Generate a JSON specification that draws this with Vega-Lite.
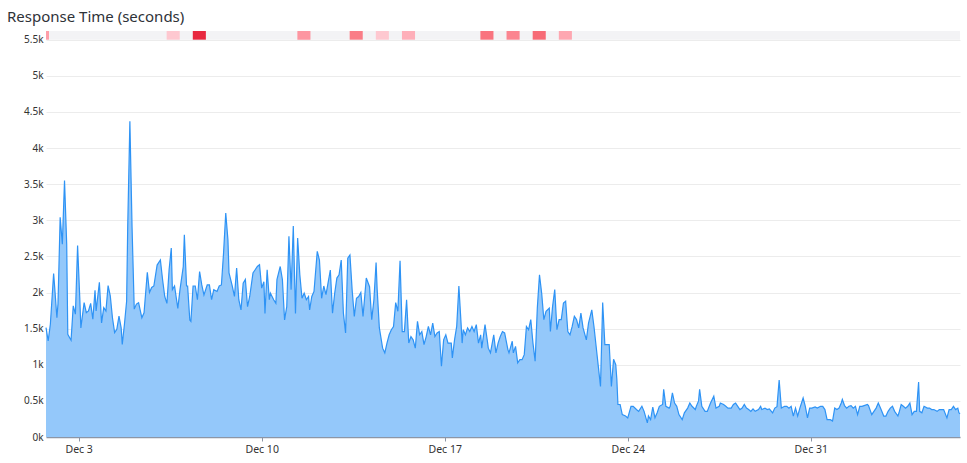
{
  "$schema": "https://vega.github.io/schema/vega-lite/v6.json",
  "width": 914,
  "height": 406,
  "autosize": "none",
  "padding": {"left": 46, "top": 31, "right": 7, "bottom": 26},
  "background": "#ffffff",
  "title": {
    "text": "Response Time (seconds)",
    "anchor": "start",
    "frame": "group",
    "dx": -39,
    "offset": 6,
    "font": "Noto Sans",
    "fontSize": 15,
    "fontWeight": "normal",
    "color": "#2e3238"
  },
  "config": {
    "view": {"stroke": null},
    "axis": {"labelFont": "Noto Sans", "labelColor": "#333333", "titleFont": "Noto Sans"},
    "axisY": {
      "tickCount": 12,
      "labelExpr": "datum.value / 1000 + 'k'",
      "grid": true,
      "domain": false,
      "ticks": false,
      "labelPadding": 3,
      "labelFontSize": 10,
      "gridColor": "#ececec",
      "gridWidth": 1
    },
    "axisX": {
      "grid": false,
      "domainColor": "#8c96a6",
      "domainWidth": 1.3,
      "tickColor": "#8c96a6",
      "tickSize": 4,
      "labelFontSize": 10.5,
      "labelPadding": 3
    }
  },
  "datasets": {
    "band": [{"s": "2023-12-01T18:00", "e": "2024-01-05T17:00"}],
    "cells": [
      {"s": "2023-12-01T08:45", "e": "2023-12-01T20:45", "n": 4},
      {"s": "2023-12-06T08:45", "e": "2023-12-06T20:45", "n": 1.5},
      {"s": "2023-12-07T08:45", "e": "2023-12-07T20:45", "n": 10},
      {"s": "2023-12-11T08:45", "e": "2023-12-11T20:45", "n": 4.5},
      {"s": "2023-12-13T08:45", "e": "2023-12-13T20:45", "n": 6},
      {"s": "2023-12-14T08:45", "e": "2023-12-14T20:45", "n": 1.5},
      {"s": "2023-12-15T08:45", "e": "2023-12-15T20:45", "n": 3},
      {"s": "2023-12-18T08:45", "e": "2023-12-18T20:45", "n": 6.5},
      {"s": "2023-12-19T08:45", "e": "2023-12-19T20:45", "n": 5.5},
      {"s": "2023-12-20T08:45", "e": "2023-12-20T20:45", "n": 7},
      {"s": "2023-12-21T08:45", "e": "2023-12-21T20:45", "n": 3.5}
    ],
    "series": [
      {"t":"2023-12-01T18:00","v":1514},{"t":"2023-12-01T20:00","v":1330},{"t":"2023-12-01T22:00","v":1560},
      {"t":"2023-12-02T01:00","v":2264},{"t":"2023-12-02T02:00","v":2070},{"t":"2023-12-02T04:00","v":1650},
      {"t":"2023-12-02T05:00","v":1840},{"t":"2023-12-02T07:00","v":3040},{"t":"2023-12-02T09:00","v":2670},
      {"t":"2023-12-02T11:00","v":3550},{"t":"2023-12-02T13:00","v":2670},{"t":"2023-12-02T14:00","v":1420},
      {"t":"2023-12-02T17:00","v":1340},{"t":"2023-12-02T19:00","v":1815},{"t":"2023-12-02T21:00","v":1700},
      {"t":"2023-12-02T23:00","v":2650},{"t":"2023-12-03T01:00","v":1930},{"t":"2023-12-03T02:00","v":1510},
      {"t":"2023-12-03T05:00","v":1860},{"t":"2023-12-03T07:00","v":1720},{"t":"2023-12-03T09:00","v":1745},
      {"t":"2023-12-03T11:00","v":1850},{"t":"2023-12-03T13:00","v":1630},{"t":"2023-12-03T15:00","v":2030},
      {"t":"2023-12-03T16:00","v":1745},{"t":"2023-12-03T19:00","v":2140},{"t":"2023-12-03T21:00","v":1580},
      {"t":"2023-12-03T23:00","v":1790},{"t":"2023-12-04T01:00","v":1745},{"t":"2023-12-04T03:00","v":2095},
      {"t":"2023-12-04T05:00","v":1955},{"t":"2023-12-04T07:00","v":1650},{"t":"2023-12-04T09:00","v":1445},
      {"t":"2023-12-04T11:00","v":1490},{"t":"2023-12-04T13:00","v":1675},{"t":"2023-12-04T15:00","v":1510},
      {"t":"2023-12-04T16:00","v":1280},{"t":"2023-12-04T18:00","v":1560},{"t":"2023-12-04T20:00","v":1880},
      {"t":"2023-12-04T21:00","v":2900},{"t":"2023-12-04T23:00","v":4370},{"t":"2023-12-05T01:00","v":2900},
      {"t":"2023-12-05T03:00","v":1770},{"t":"2023-12-05T05:00","v":1840},{"t":"2023-12-05T07:00","v":1860},
      {"t":"2023-12-05T10:00","v":1650},{"t":"2023-12-05T12:00","v":1720},{"t":"2023-12-05T15:00","v":2280},
      {"t":"2023-12-05T17:00","v":2000},{"t":"2023-12-05T19:00","v":2070},{"t":"2023-12-05T21:00","v":2090},
      {"t":"2023-12-06T00:00","v":2380},{"t":"2023-12-06T03:00","v":2450},{"t":"2023-12-06T05:00","v":2180},
      {"t":"2023-12-06T07:00","v":1945},{"t":"2023-12-06T09:00","v":1850},{"t":"2023-12-06T11:00","v":2315},
      {"t":"2023-12-06T13:00","v":2615},{"t":"2023-12-06T14:00","v":2040},{"t":"2023-12-06T16:00","v":2090},
      {"t":"2023-12-06T19:00","v":1780},{"t":"2023-12-06T21:00","v":2040},{"t":"2023-12-07T00:00","v":2360},
      {"t":"2023-12-07T01:00","v":2800},{"t":"2023-12-07T03:00","v":2090},{"t":"2023-12-07T04:00","v":2090},
      {"t":"2023-12-07T06:00","v":1620},{"t":"2023-12-07T07:00","v":1600},{"t":"2023-12-07T09:00","v":2090},
      {"t":"2023-12-07T11:00","v":2090},{"t":"2023-12-07T13:00","v":1900},{"t":"2023-12-07T15:00","v":2290},
      {"t":"2023-12-07T17:00","v":2105},{"t":"2023-12-07T19:00","v":1965},{"t":"2023-12-07T22:00","v":2105},
      {"t":"2023-12-08T00:00","v":2105},{"t":"2023-12-08T02:00","v":1900},{"t":"2023-12-08T04:00","v":2040},
      {"t":"2023-12-08T07:00","v":2015},{"t":"2023-12-08T09:00","v":2090},{"t":"2023-12-08T11:00","v":2105},
      {"t":"2023-12-08T13:00","v":2550},{"t":"2023-12-08T15:00","v":3100},{"t":"2023-12-08T17:00","v":2730},
      {"t":"2023-12-08T18:00","v":2270},{"t":"2023-12-08T21:00","v":2090},{"t":"2023-12-08T23:00","v":1945},
      {"t":"2023-12-09T01:00","v":2340},{"t":"2023-12-09T03:00","v":1900},{"t":"2023-12-09T05:00","v":1760},
      {"t":"2023-12-09T07:00","v":2130},{"t":"2023-12-09T09:00","v":2180},{"t":"2023-12-09T11:00","v":1805},
      {"t":"2023-12-09T13:00","v":1945},{"t":"2023-12-09T16:00","v":2270},{"t":"2023-12-09T18:00","v":2315},
      {"t":"2023-12-09T20:00","v":2360},{"t":"2023-12-09T22:00","v":2385},{"t":"2023-12-10T00:00","v":2060},
      {"t":"2023-12-10T02:00","v":2150},{"t":"2023-12-10T03:00","v":1710},{"t":"2023-12-10T05:00","v":2315},
      {"t":"2023-12-10T07:00","v":1900},{"t":"2023-12-10T08:00","v":1990},{"t":"2023-12-10T11:00","v":1900},
      {"t":"2023-12-10T13:00","v":1850},{"t":"2023-12-10T14:00","v":2180},{"t":"2023-12-10T17:00","v":2360},
      {"t":"2023-12-10T19:00","v":2180},{"t":"2023-12-10T21:00","v":1620},{"t":"2023-12-10T23:00","v":1805},
      {"t":"2023-12-11T01:00","v":2780},{"t":"2023-12-11T03:00","v":2040},{"t":"2023-12-11T05:00","v":2920},
      {"t":"2023-12-11T07:00","v":1710},{"t":"2023-12-11T09:00","v":2755},{"t":"2023-12-11T11:00","v":2245},
      {"t":"2023-12-11T13:00","v":1920},{"t":"2023-12-11T15:00","v":1990},{"t":"2023-12-11T17:00","v":1900},
      {"t":"2023-12-11T19:00","v":1945},{"t":"2023-12-11T20:00","v":1760},{"t":"2023-12-11T22:00","v":1945},
      {"t":"2023-12-12T00:00","v":2015},{"t":"2023-12-12T03:00","v":2570},{"t":"2023-12-12T05:00","v":2450},
      {"t":"2023-12-12T07:00","v":1920},{"t":"2023-12-12T09:00","v":2090},{"t":"2023-12-12T11:00","v":1970},
      {"t":"2023-12-12T15:00","v":2310},{"t":"2023-12-12T17:00","v":1715},{"t":"2023-12-12T19:00","v":1990},
      {"t":"2023-12-12T21:00","v":2200},{"t":"2023-12-12T23:00","v":2245},{"t":"2023-12-13T01:00","v":2450},
      {"t":"2023-12-13T03:00","v":1715},{"t":"2023-12-13T05:00","v":1440},{"t":"2023-12-13T07:00","v":2475},
      {"t":"2023-12-13T09:00","v":2520},{"t":"2023-12-13T11:00","v":2040},{"t":"2023-12-13T13:00","v":1670},
      {"t":"2023-12-13T15:00","v":1920},{"t":"2023-12-13T17:00","v":1945},{"t":"2023-12-13T19:00","v":2000},
      {"t":"2023-12-13T21:00","v":1670},{"t":"2023-12-14T00:00","v":2200},{"t":"2023-12-14T03:00","v":2080},
      {"t":"2023-12-14T05:00","v":1625},{"t":"2023-12-14T07:00","v":1900},{"t":"2023-12-14T09:00","v":2415},
      {"t":"2023-12-14T10:00","v":2040},{"t":"2023-12-14T12:00","v":1510},{"t":"2023-12-14T15:00","v":1230},
      {"t":"2023-12-14T17:00","v":1165},{"t":"2023-12-14T19:00","v":1300},{"t":"2023-12-14T21:00","v":1415},
      {"t":"2023-12-14T23:00","v":1485},{"t":"2023-12-15T01:00","v":1530},{"t":"2023-12-15T03:00","v":1860},
      {"t":"2023-12-15T05:00","v":1740},{"t":"2023-12-15T07:00","v":2440},{"t":"2023-12-15T09:00","v":1460},
      {"t":"2023-12-15T11:00","v":1460},{"t":"2023-12-15T13:00","v":1900},{"t":"2023-12-15T15:00","v":1300},
      {"t":"2023-12-15T17:00","v":1390},{"t":"2023-12-15T19:00","v":1345},{"t":"2023-12-15T21:00","v":1230},
      {"t":"2023-12-15T23:00","v":1600},{"t":"2023-12-16T01:00","v":1415},{"t":"2023-12-16T03:00","v":1460},
      {"t":"2023-12-16T05:00","v":1280},{"t":"2023-12-16T07:00","v":1390},{"t":"2023-12-16T09:00","v":1530},
      {"t":"2023-12-16T11:00","v":1415},{"t":"2023-12-16T13:00","v":1575},{"t":"2023-12-16T15:00","v":1390},
      {"t":"2023-12-16T17:00","v":1440},{"t":"2023-12-16T19:00","v":1460},{"t":"2023-12-16T21:00","v":980},
      {"t":"2023-12-16T23:00","v":1345},{"t":"2023-12-17T01:00","v":1415},{"t":"2023-12-17T03:00","v":1300},
      {"t":"2023-12-17T06:00","v":1300},{"t":"2023-12-17T07:00","v":1095},{"t":"2023-12-17T09:00","v":1345},
      {"t":"2023-12-17T11:00","v":1530},{"t":"2023-12-17T13:00","v":2090},{"t":"2023-12-17T15:00","v":1575},
      {"t":"2023-12-17T16:00","v":1300},{"t":"2023-12-17T17:00","v":1485},{"t":"2023-12-17T19:00","v":1415},
      {"t":"2023-12-17T21:00","v":1510},{"t":"2023-12-17T23:00","v":1460},{"t":"2023-12-18T01:00","v":1530},
      {"t":"2023-12-18T03:00","v":1460},{"t":"2023-12-18T05:00","v":1555},{"t":"2023-12-18T07:00","v":1300},
      {"t":"2023-12-18T09:00","v":1415},{"t":"2023-12-18T10:00","v":1230},{"t":"2023-12-18T13:00","v":1555},
      {"t":"2023-12-18T15:00","v":1345},{"t":"2023-12-18T16:00","v":1230},{"t":"2023-12-18T18:00","v":1165},
      {"t":"2023-12-18T21:00","v":1415},{"t":"2023-12-18T23:00","v":1165},{"t":"2023-12-19T01:00","v":1300},
      {"t":"2023-12-19T03:00","v":1390},{"t":"2023-12-19T05:00","v":1460},{"t":"2023-12-19T07:00","v":1440},
      {"t":"2023-12-19T10:00","v":1210},{"t":"2023-12-19T11:00","v":1165},{"t":"2023-12-19T14:00","v":1325},
      {"t":"2023-12-19T15:00","v":1165},{"t":"2023-12-19T17:00","v":1255},{"t":"2023-12-19T19:00","v":1025},
      {"t":"2023-12-19T21:00","v":1070},{"t":"2023-12-19T23:00","v":1070},{"t":"2023-12-20T01:00","v":1140},
      {"t":"2023-12-20T03:00","v":1530},{"t":"2023-12-20T05:00","v":1485},{"t":"2023-12-20T07:00","v":1625},
      {"t":"2023-12-20T09:00","v":1300},{"t":"2023-12-20T11:00","v":1050},{"t":"2023-12-20T13:00","v":1785},
      {"t":"2023-12-20T15:00","v":2245},{"t":"2023-12-20T17:00","v":1990},{"t":"2023-12-20T19:00","v":1625},
      {"t":"2023-12-20T21:00","v":1740},{"t":"2023-12-21T00:00","v":1785},{"t":"2023-12-21T01:00","v":1460},
      {"t":"2023-12-21T03:00","v":1805},{"t":"2023-12-21T05:00","v":2040},{"t":"2023-12-21T07:00","v":1485},
      {"t":"2023-12-21T09:00","v":1625},{"t":"2023-12-21T11:00","v":1625},{"t":"2023-12-21T13:00","v":1855},
      {"t":"2023-12-21T15:00","v":1880},{"t":"2023-12-21T17:00","v":1460},{"t":"2023-12-21T19:00","v":1415},
      {"t":"2023-12-21T21:00","v":1530},{"t":"2023-12-21T23:00","v":1670},{"t":"2023-12-22T01:00","v":1625},
      {"t":"2023-12-22T03:00","v":1510},{"t":"2023-12-22T05:00","v":1715},{"t":"2023-12-22T07:00","v":1510},
      {"t":"2023-12-22T10:00","v":1345},{"t":"2023-12-22T12:00","v":1575},{"t":"2023-12-22T15:00","v":1760},
      {"t":"2023-12-22T17:00","v":1530},{"t":"2023-12-22T20:00","v":1115},{"t":"2023-12-22T23:00","v":700},
      {"t":"2023-12-23T01:00","v":1860},{"t":"2023-12-23T03:00","v":1280},{"t":"2023-12-23T05:00","v":1280},
      {"t":"2023-12-23T07:00","v":1280},{"t":"2023-12-23T09:00","v":700},{"t":"2023-12-23T11:00","v":1075},
      {"t":"2023-12-23T13:00","v":1000},{"t":"2023-12-23T14:00","v":800},{"t":"2023-12-23T15:00","v":450},
      {"t":"2023-12-23T17:00","v":450},{"t":"2023-12-23T19:00","v":310},{"t":"2023-12-23T22:00","v":290},
      {"t":"2023-12-24T00:00","v":265},{"t":"2023-12-24T03:00","v":425},{"t":"2023-12-24T05:00","v":425},
      {"t":"2023-12-24T08:00","v":380},{"t":"2023-12-24T10:00","v":355},{"t":"2023-12-24T13:00","v":425},
      {"t":"2023-12-24T15:00","v":355},{"t":"2023-12-24T18:00","v":195},{"t":"2023-12-24T19:00","v":290},
      {"t":"2023-12-24T21:00","v":240},{"t":"2023-12-24T23:00","v":415},{"t":"2023-12-25T01:00","v":265},
      {"t":"2023-12-25T03:00","v":335},{"t":"2023-12-25T05:00","v":425},{"t":"2023-12-25T08:00","v":450},
      {"t":"2023-12-25T09:00","v":660},{"t":"2023-12-25T11:00","v":425},{"t":"2023-12-25T14:00","v":400},
      {"t":"2023-12-25T15:00","v":425},{"t":"2023-12-25T17:00","v":610},{"t":"2023-12-25T19:00","v":470},
      {"t":"2023-12-25T21:00","v":425},{"t":"2023-12-25T23:00","v":310},{"t":"2023-12-26T02:00","v":240},
      {"t":"2023-12-26T04:00","v":335},{"t":"2023-12-26T07:00","v":400},{"t":"2023-12-26T09:00","v":470},
      {"t":"2023-12-26T11:00","v":425},{"t":"2023-12-26T14:00","v":380},{"t":"2023-12-26T15:00","v":425},
      {"t":"2023-12-26T17:00","v":500},{"t":"2023-12-26T18:00","v":660},{"t":"2023-12-26T20:00","v":425},
      {"t":"2023-12-26T23:00","v":355},{"t":"2023-12-27T01:00","v":355},{"t":"2023-12-27T04:00","v":470},
      {"t":"2023-12-27T07:00","v":565},{"t":"2023-12-27T09:00","v":400},{"t":"2023-12-27T12:00","v":425},
      {"t":"2023-12-27T13:00","v":470},{"t":"2023-12-27T16:00","v":450},{"t":"2023-12-27T18:00","v":425},
      {"t":"2023-12-27T20:00","v":400},{"t":"2023-12-27T23:00","v":400},{"t":"2023-12-28T01:00","v":450},
      {"t":"2023-12-28T03:00","v":470},{"t":"2023-12-28T05:00","v":425},{"t":"2023-12-28T07:00","v":380},
      {"t":"2023-12-28T09:00","v":400},{"t":"2023-12-28T11:00","v":450},{"t":"2023-12-28T13:00","v":400},
      {"t":"2023-12-28T15:00","v":380},{"t":"2023-12-28T17:00","v":355},{"t":"2023-12-28T19:00","v":390},
      {"t":"2023-12-28T21:00","v":355},{"t":"2023-12-29T00:00","v":380},{"t":"2023-12-29T02:00","v":425},
      {"t":"2023-12-29T03:00","v":380},{"t":"2023-12-29T06:00","v":400},{"t":"2023-12-29T08:00","v":380},
      {"t":"2023-12-29T10:00","v":390},{"t":"2023-12-29T13:00","v":335},{"t":"2023-12-29T15:00","v":400},
      {"t":"2023-12-29T17:00","v":420},{"t":"2023-12-29T19:00","v":790},{"t":"2023-12-29T21:00","v":400},
      {"t":"2023-12-30T00:00","v":425},{"t":"2023-12-30T02:00","v":425},{"t":"2023-12-30T04:00","v":400},
      {"t":"2023-12-30T06:00","v":425},{"t":"2023-12-30T08:00","v":290},{"t":"2023-12-30T10:00","v":400},
      {"t":"2023-12-30T12:00","v":290},{"t":"2023-12-30T14:00","v":400},{"t":"2023-12-30T17:00","v":540},
      {"t":"2023-12-30T19:00","v":425},{"t":"2023-12-30T21:00","v":265},{"t":"2023-12-30T23:00","v":400},
      {"t":"2023-12-31T01:00","v":400},{"t":"2023-12-31T04:00","v":415},{"t":"2023-12-31T06:00","v":400},
      {"t":"2023-12-31T09:00","v":425},{"t":"2023-12-31T11:00","v":425},{"t":"2023-12-31T13:00","v":380},
      {"t":"2023-12-31T15:00","v":240},{"t":"2023-12-31T18:00","v":240},{"t":"2023-12-31T20:00","v":220},
      {"t":"2023-12-31T22:00","v":400},{"t":"2024-01-01T00:00","v":380},{"t":"2024-01-01T02:00","v":400},
      {"t":"2024-01-01T04:00","v":470},{"t":"2024-01-01T05:00","v":520},{"t":"2024-01-01T07:00","v":435},
      {"t":"2024-01-01T09:00","v":400},{"t":"2024-01-01T11:00","v":425},{"t":"2024-01-01T13:00","v":435},
      {"t":"2024-01-01T15:00","v":400},{"t":"2024-01-01T17:00","v":425},{"t":"2024-01-01T19:00","v":310},
      {"t":"2024-01-01T21:00","v":425},{"t":"2024-01-01T23:00","v":425},{"t":"2024-01-02T01:00","v":435},
      {"t":"2024-01-02T04:00","v":450},{"t":"2024-01-02T05:00","v":435},{"t":"2024-01-02T08:00","v":310},
      {"t":"2024-01-02T10:00","v":355},{"t":"2024-01-02T12:00","v":400},{"t":"2024-01-02T14:00","v":470},
      {"t":"2024-01-02T16:00","v":400},{"t":"2024-01-02T19:00","v":290},{"t":"2024-01-02T21:00","v":290},
      {"t":"2024-01-02T23:00","v":355},{"t":"2024-01-03T01:00","v":400},{"t":"2024-01-03T03:00","v":425},
      {"t":"2024-01-03T05:00","v":355},{"t":"2024-01-03T08:00","v":290},{"t":"2024-01-03T09:00","v":335},
      {"t":"2024-01-03T11:00","v":450},{"t":"2024-01-03T13:00","v":425},{"t":"2024-01-03T15:00","v":400},
      {"t":"2024-01-03T17:00","v":425},{"t":"2024-01-03T19:00","v":470},{"t":"2024-01-03T21:00","v":310},
      {"t":"2024-01-03T23:00","v":355},{"t":"2024-01-04T01:00","v":355},{"t":"2024-01-04T03:00","v":760},
      {"t":"2024-01-04T04:00","v":355},{"t":"2024-01-04T06:00","v":335},{"t":"2024-01-04T08:00","v":425},
      {"t":"2024-01-04T11:00","v":400},{"t":"2024-01-04T13:00","v":400},{"t":"2024-01-04T15:00","v":380},
      {"t":"2024-01-04T17:00","v":380},{"t":"2024-01-04T20:00","v":355},{"t":"2024-01-04T22:00","v":380},
      {"t":"2024-01-05T01:00","v":380},{"t":"2024-01-05T02:00","v":380},{"t":"2024-01-05T05:00","v":265},
      {"t":"2024-01-05T07:00","v":380},{"t":"2024-01-05T09:00","v":380},{"t":"2024-01-05T11:00","v":425},
      {"t":"2024-01-05T13:00","v":380},{"t":"2024-01-05T15:00","v":400},{"t":"2024-01-05T16:00","v":335},
      {"t":"2024-01-05T17:00","v":320}
    ]
  },
  "layer": [
    {
      "data": {"name": "band"},
      "mark": {"type": "rect", "fill": "#f3f3f5"},
      "encoding": {
        "x": {
          "field": "s", "type": "temporal", "title": null,
          "scale": {"domain": [{"year": 2023, "month": 12, "date": 1, "hours": 18}, {"year": 2024, "month": 1, "date": 5, "hours": 17}]},
          "axis": {"format": "%b %-d", "tickCount": {"interval": "week", "step": 1}}
        },
        "x2": {"field": "e"},
        "y": {
          "datum": 5500, "type": "quantitative", "title": null,
          "scale": {"domain": [0, 5620], "nice": false, "zero": true}
        },
        "y2": {"datum": 5620}
      }
    },
    {
      "data": {"name": "cells"},
      "mark": {"type": "rect", "clip": true},
      "encoding": {
        "x": {"field": "s", "type": "temporal", "title": null},
        "x2": {"field": "e"},
        "y": {"datum": 5500, "type": "quantitative", "title": null},
        "y2": {"datum": 5620},
        "color": {
          "field": "n", "type": "quantitative", "legend": null,
          "scale": {"domain": [1, 10], "range": ["#fdd0d7", "#e8283f"]}
        }
      }
    },
    {
      "data": {"name": "series"},
      "mark": {"type": "area", "fill": "#94c8fa", "interpolate": "linear"},
      "encoding": {
        "x": {"field": "t", "type": "temporal", "title": null},
        "y": {"field": "v", "type": "quantitative", "title": null}
      }
    },
    {
      "data": {"name": "series"},
      "mark": {"type": "line", "stroke": "#2e93f5", "strokeWidth": 1.2, "interpolate": "linear"},
      "encoding": {
        "x": {"field": "t", "type": "temporal", "title": null},
        "y": {"field": "v", "type": "quantitative", "title": null}
      }
    }
  ]
}
